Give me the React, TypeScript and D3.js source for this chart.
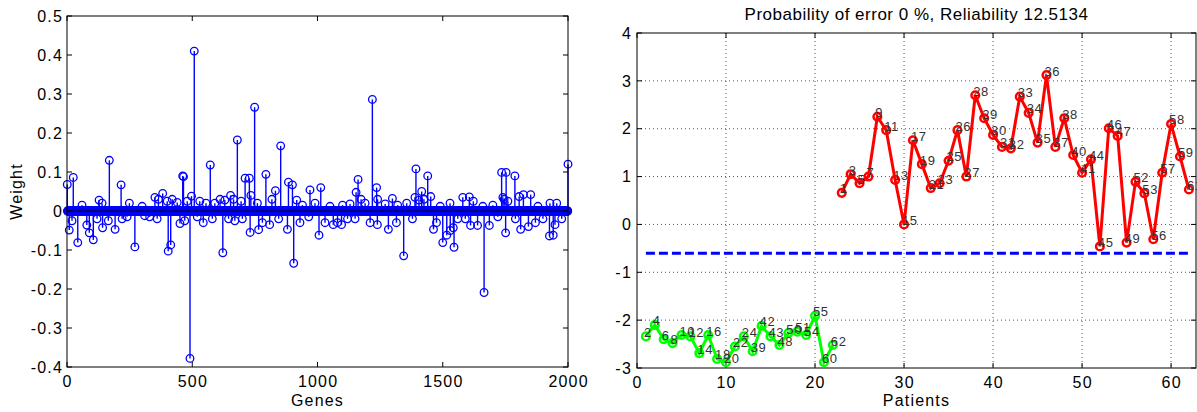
import React from "react";
import * as d3 from "d3";

// ---- left panel: gene weights (sparse, other genes ~0) ----
const geneCount = 2000;
const geneWeights: [number, number][] = [
  [1, 0.068], [25, 0.086], [60, 0.015], [128, 0.028], [140, 0.02], [169, 0.13], [216, 0.067], [249, 0.02],
  [300, 0.012], [351, 0.035], [365, 0.03], [382, 0.045], [400, 0.025], [420, 0.03], [440, 0.022], [462, 0.09],
  [465, 0.088], [480, 0.025], [497, 0.038], [508, 0.41], [530, 0.025], [555, 0.02], [572, 0.118], [590, 0.02],
  [611, 0.03], [630, 0.028], [653, 0.04], [665, 0.03], [680, 0.182], [695, 0.025], [711, 0.084], [728, 0.084],
  [734, 0.04], [749, 0.266], [760, 0.02], [794, 0.094], [818, 0.03], [832, 0.052], [853, 0.167], [884, 0.074],
  [900, 0.067], [917, 0.028], [940, 0.015], [970, 0.054], [990, 0.02], [1013, 0.06], [1050, 0.012], [1100, 0.015],
  [1130, 0.018], [1154, 0.048], [1162, 0.081], [1174, 0.03], [1190, 0.02], [1219, 0.286], [1236, 0.06], [1240, 0.03],
  [1270, 0.018], [1299, 0.032], [1320, 0.015], [1356, 0.02], [1389, 0.035], [1393, 0.108], [1405, 0.028], [1416, 0.05],
  [1425, 0.03], [1440, 0.09], [1452, 0.037], [1490, 0.012], [1529, 0.02], [1580, 0.035], [1606, 0.036], [1622, 0.025],
  [1660, 0.012], [1700, 0.015], [1735, 0.099], [1740, 0.035], [1745, 0.03], [1753, 0.099], [1760, 0.025], [1788, 0.09],
  [1805, 0.037], [1822, 0.042], [1851, 0.042], [1880, 0.012], [1928, 0.02], [1955, 0.02], [2000, 0.12],
  [9, -0.049], [20, -0.025], [43, -0.081], [79, -0.036], [89, -0.056], [105, -0.074], [120, -0.02], [142, -0.043],
  [165, -0.025], [192, -0.047], [220, -0.02], [240, -0.015], [271, -0.092], [310, -0.012], [330, -0.015], [360, -0.02],
  [404, -0.103], [414, -0.087], [451, -0.032], [470, -0.025], [491, -0.378], [520, -0.015], [544, -0.03], [580, -0.02],
  [622, -0.107], [645, -0.02], [670, -0.025], [700, -0.02], [731, -0.055], [765, -0.048], [780, -0.03], [809, -0.035],
  [845, -0.02], [880, -0.047], [905, -0.134], [930, -0.03], [965, -0.015], [1006, -0.062], [1030, -0.03], [1063, -0.035],
  [1080, -0.03], [1096, -0.035], [1120, -0.02], [1150, -0.02], [1210, -0.03], [1239, -0.035], [1283, -0.047], [1315, -0.03],
  [1344, -0.115], [1379, -0.02], [1463, -0.047], [1475, -0.03], [1500, -0.081], [1516, -0.062], [1530, -0.05], [1542, -0.043],
  [1545, -0.093], [1560, -0.02], [1590, -0.02], [1611, -0.037], [1639, -0.037], [1665, -0.209], [1686, -0.037], [1720, -0.015],
  [1751, -0.056], [1790, -0.02], [1811, -0.047], [1842, -0.04], [1870, -0.03], [1900, -0.02], [1926, -0.064], [1941, -0.062],
  [1948, -0.035], [1975, -0.02],
];
const weightTicks = [-0.4, -0.3, -0.2, -0.1, 0, 0.1, 0.2, 0.3, 0.4, 0.5];
const geneTicks = [0, 500, 1000, 1500, 2000];

// ---- right panel: patient scores ----
const greenLabels = ["2", "4", "6", "8", "10", "12", "14", "16", "18", "20", "22", "24", "39", "42", "43", "48", "50", "51", "54", "55", "60", "62"];
const greenValues = [-2.34, -2.1, -2.4, -2.48, -2.31, -2.34, -2.69, -2.31, -2.81, -2.88, -2.55, -2.34, -2.65, -2.12, -2.34, -2.52, -2.27, -2.24, -2.31, -1.91, -2.88, -2.52];
const redLabels = ["1", "3", "5", "7", "9", "11", "13", "15", "17", "19", "21", "23", "25", "26", "27", "28", "29", "30", "31", "32",
  "33", "34", "35", "36", "37", "38", "40", "41", "44", "45", "46", "47", "49", "52", "53", "56", "57", "58", "59", "61"];
const redValues = [0.66, 1.05, 0.86, 1.0, 2.25, 1.97, 0.93, 0.0, 1.76, 1.26, 0.76, 0.86, 1.33, 1.97, 1.0, 2.7, 2.22, 1.87, 1.62, 1.59,
  2.67, 2.33, 1.71, 3.12, 1.62, 2.22, 1.45, 1.08, 1.36, -0.46, 2.01, 1.85, -0.38, 0.89, 0.65, -0.31, 1.08, 2.1, 1.42, 0.73];
const threshold = -0.6;
const scoreTicks = [-3, -2, -1, 0, 1, 2, 3, 4];
const patientTicks = [0, 10, 20, 30, 40, 50, 60];
const titleText = "Probability of error 0 %, Reliability 12.5134";

const FONT = "'Liberation Sans', Arial, Helvetica, sans-serif";
const axisFont = { fontSize: 16, letterSpacing: 1.2 };

const App = () => {
  // left axes
  const lx = d3.scaleLinear().domain([0, 2000]).range([67, 568]);
  const ly = d3.scaleLinear().domain([-0.4, 0.5]).range([367, 16]);
  const wMap = new Map(geneWeights);
  const genes = d3.range(1, geneCount + 1).map((g) => ({ g, w: wMap.get(g) ?? 0 }));
  const nonZero = genes.filter((d) => d.w !== 0);

  // right axes
  const rx = d3.scaleLinear().domain([0, 62.8]).range([637, 1196]);
  const ry = d3.scaleLinear().domain([-3, 4]).range([368, 33]);
  const green = greenValues.map((v, i) => ({ x: i + 1, v, label: greenLabels[i] }));
  const red = redValues.map((v, i) => ({ x: greenValues.length + 1 + i, v, label: redLabels[i] }));
  const line = d3.line<{ x: number; v: number }>().x((d) => rx(d.x)).y((d) => ry(d.v));

  const [lx0, lx1] = lx.range();
  const [ly1, ly0] = ly.range();
  const [rx0, rx1] = rx.range();
  const [ry1, ry0] = ry.range();

  return (
    <svg width={1197} height={412} style={{ position: "absolute", left: 0, top: 0, background: "#fff" }}
      fontFamily={FONT}>
      {/* ===== left: stem plot ===== */}
      <g>
        {nonZero.map((d) => (
          <line key={"s" + d.g} x1={lx(d.g)} x2={lx(d.g)} y1={ly(0)} y2={ly(d.w)} stroke="#0000ff" strokeWidth={1.4} />
        ))}
        {genes.filter((d) => d.w === 0).map((d) => (
          <circle key={"z" + d.g} cx={lx(d.g)} cy={ly(0)} r={3.8} fill="none" stroke="#0000ff" strokeWidth={1.3} />
        ))}
        {nonZero.map((d) => (
          <circle key={"c" + d.g} cx={lx(d.g)} cy={ly(d.w)} r={3.8} fill="none" stroke="#0000ff" strokeWidth={1.3} />
        ))}
        <line x1={lx0} x2={lx1} y1={ly(0)} y2={ly(0)} stroke="#000" strokeWidth={1} />
        <rect x={lx0} y={ly0} width={lx1 - lx0} height={ly1 - ly0} fill="none" stroke="#000" strokeWidth={1} />
        {weightTicks.map((t) => (
          <g key={"wt" + t}>
            <line x1={lx0} x2={lx0 + 5} y1={ly(t)} y2={ly(t)} stroke="#000" />
            <line x1={lx1} x2={lx1 - 5} y1={ly(t)} y2={ly(t)} stroke="#000" />
            <text x={lx0 - 4} y={ly(t)} dy="0.36em" textAnchor="end" {...axisFont}>{t}</text>
          </g>
        ))}
        {geneTicks.map((t) => (
          <g key={"gt" + t}>
            <line x1={lx(t)} x2={lx(t)} y1={ly1} y2={ly1 - 5} stroke="#000" />
            <line x1={lx(t)} x2={lx(t)} y1={ly0} y2={ly0 + 5} stroke="#000" />
            <text x={lx(t) + 0.6} y={ly1 + 20} textAnchor="middle" {...axisFont}>{t}</text>
          </g>
        ))}
        <text x={(lx0 + lx1) / 2} y={406} textAnchor="middle" {...axisFont}>Genes</text>
        <text transform={`translate(22, ${(ly0 + ly1) / 2}) rotate(-90)`} textAnchor="middle" {...axisFont}>Weight</text>
      </g>

      {/* ===== right: patient scores ===== */}
      <g>
        {patientTicks.filter((t) => t > 0).map((t) => (
          <line key={"gx" + t} x1={rx(t)} x2={rx(t)} y1={ry0} y2={ry1} stroke="#555" strokeDasharray="1,3" />
        ))}
        {scoreTicks.filter((t) => t > -3 && t < 4).map((t) => (
          <line key={"gy" + t} x1={rx0} x2={rx1} y1={ry(t)} y2={ry(t)} stroke="#555" strokeDasharray="1,3" />
        ))}
        <rect x={rx0} y={ry0} width={rx1 - rx0} height={ry1 - ry0} fill="none" stroke="#000" strokeWidth={1} />
        {scoreTicks.map((t) => (
          <g key={"st" + t}>
            <line x1={rx0} x2={rx0 + 5} y1={ry(t)} y2={ry(t)} stroke="#000" />
            <line x1={rx1} x2={rx1 - 5} y1={ry(t)} y2={ry(t)} stroke="#000" />
            <text x={rx0 - 5} y={ry(t)} dy="0.36em" textAnchor="end" {...axisFont}>{t}</text>
          </g>
        ))}
        {patientTicks.map((t) => (
          <g key={"pt" + t}>
            <line x1={rx(t)} x2={rx(t)} y1={ry1} y2={ry1 - 5} stroke="#000" />
            <line x1={rx(t)} x2={rx(t)} y1={ry0} y2={ry0 + 5} stroke="#000" />
            <text x={rx(t) + 0.6} y={ry1 + 20} textAnchor="middle" {...axisFont}>{t}</text>
          </g>
        ))}

        <line x1={rx(1)} x2={rx(62)} y1={ry(threshold)} y2={ry(threshold)} stroke="#0000ff" strokeWidth={3}
          strokeDasharray="9,4" />

        <path d={line(green) ?? ""} fill="none" stroke="#00ff00" strokeWidth={3} />
        {green.map((d) => (
          <circle key={"gc" + d.x} cx={rx(d.x)} cy={ry(d.v)} r={3.8} fill="none" stroke="#00ff00" strokeWidth={2.5} />
        ))}
        <path d={line(red) ?? ""} fill="none" stroke="#ff0000" strokeWidth={3} />
        {red.map((d) => (
          <circle key={"rc" + d.x} cx={rx(d.x)} cy={ry(d.v)} r={3.8} fill="none" stroke="#ff0000" strokeWidth={2.5} />
        ))}
        {[...green, ...red].map((d) => (
          <text key={"lb" + d.x} x={rx(d.x) - 2} y={ry(d.v) - 4} dy="0.35em" fontSize={13} letterSpacing={0.6}
            fill="#333">{d.label}</text>
        ))}

        <text x={(rx0 + rx1) / 2} y={20} textAnchor="middle" fontSize={17} letterSpacing={0.5}>{titleText}</text>
        <text x={(rx0 + rx1) / 2} y={406} textAnchor="middle" {...axisFont}>Patients</text>
      </g>
    </svg>
  );
};

export default App;
